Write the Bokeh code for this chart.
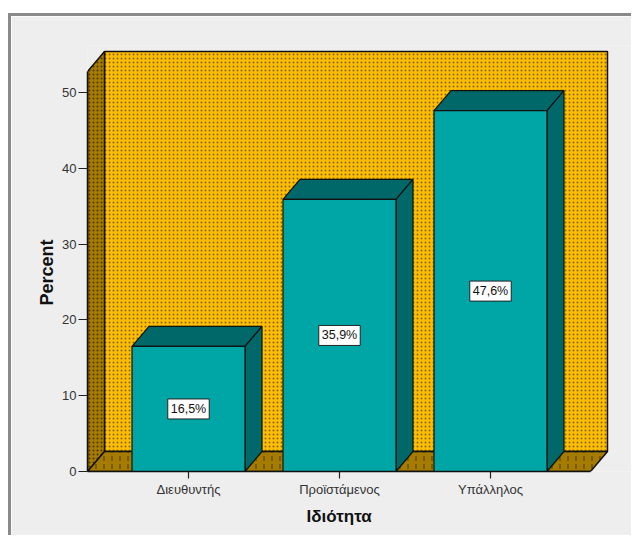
from bokeh.plotting import figure
from bokeh.models import Range1d, FixedTicker, Title
from bokeh.core.properties import value
from bokeh.embed import file_html
from bokeh.resources import INLINE

categories = ["Διευθυντής", "Προϊστάμενος", "Υπάλληλος"]
percent = [16.5, 35.9, 47.6]
labels = ["16,5%", "35,9%", "47,6%"]
y_ticks = [0, 10, 20, 30, 40, 50]

FONT = "Liberation Sans"
BAR_FRONT, BAR_DARK = "#00A6A6", "#006868"
WALL, WALL_SIDE, FLOOR = "#FFBE00", "#A67C00", "#A67C00"
EDGE = "#111111"

ox, oy = 11, 16                      # canvas origin on the page
W, H = 634 - ox, 538 - oy            # canvas size
L, R, T, B = 87 - ox, 0, 45 - oy, 67 # frame margins
px_x, px_y = 151.0, 7.58             # pixels per unit
x_lo = -(188 - 87) / px_x
x_hi = x_lo + (W - L - R) / px_x
y_hi = (H - T - B) / px_y
dx, dy = 17 / px_x, 20 / px_y        # depth of the 3-D box
half = 56.5 / px_x                   # half width of a bar
x0, x1 = x_lo, x_lo + 503 / px_x     # floor front edge
top_y = 400 / px_y                   # front top edge of the box

p = figure(width=W - 3, height=H - 3, output_backend="svg", toolbar_location=None,
           x_range=Range1d(x_lo, x_hi), y_range=Range1d(0, y_hi),
           min_border_left=L, min_border_right=R, min_border_top=T, min_border_bottom=B)
p.grid.visible = False
p.outline_line_color = None
p.background_fill_color = "#EEEEEE"
p.border_fill_color = "#EEEEEE"
p.margin = (13, 0, 0, 8)
p.styles = {"border-left": "3px solid #8A8A8A", "border-top": "3px solid #8A8A8A",
            "box-sizing": "content-box"}

# Back wall, left wall, floor
p.patch([x0 + dx, x1 + dx, x1 + dx, x0 + dx], [dy, dy, top_y + dy, top_y + dy],
        fill_color=WALL, line_color=EDGE, line_width=1.5,
        hatch_pattern="dot", hatch_color="#8A6400", hatch_scale=4, hatch_weight=2)
p.patch([x0, x0 + dx, x0 + dx, x0], [0, dy, top_y + dy, top_y],
        fill_color=WALL_SIDE, line_color=EDGE, line_width=1.5,
        hatch_pattern="dot", hatch_color="#4A3600", hatch_scale=4, hatch_weight=2)
p.patch([x0, x1, x1 + dx, x0 + dx], [0, 0, dy, dy],
        fill_color=FLOOR, line_color=EDGE, line_width=1.5,
        hatch_pattern="vertical_dash", hatch_color="#5A4200", hatch_scale=8, hatch_weight=1.2)

# Bars
for i, v in enumerate(percent):
    a, b = i - half, i + half
    p.patch([a, a + dx, b + dx, b], [v, v + dy, v + dy, v],
            fill_color=BAR_DARK, line_color=EDGE, line_width=1.2)
    p.patch([b, b + dx, b + dx, b], [0, dy, v + dy, v],
            fill_color=BAR_DARK, line_color=EDGE, line_width=1.2)
    p.patch([a, b, b, a], [0, 0, v, v],
            fill_color=BAR_FRONT, line_color=EDGE, line_width=1.2)

p.text(x=list(range(len(percent))), y=[v / 2 for v in percent], text=labels,
       text_font=value(FONT), text_font_size="12.5px", text_color="#111111",
       text_align="center", text_baseline="middle",
       background_fill_color="white", border_line_color="#222222", border_line_width=1,
       padding=3)

# Axes
xa = p.xaxis[0]
xa.ticker = FixedTicker(ticks=list(range(len(categories))))
xa.major_label_overrides = {i: c for i, c in enumerate(categories)}
xa.bounds = (x0, x1)
ya = p.yaxis[0]
ya.ticker = FixedTicker(ticks=y_ticks)
ya.bounds = (0, top_y)
for a in (xa, ya):
    a.axis_line_color = "#111111"
    a.axis_line_width = 1.5
    a.major_tick_line_color = "#222222"
    a.major_tick_line_width = 1.2
    a.major_tick_in = 0
    a.minor_tick_line_color = None
    a.major_label_text_font = FONT
    a.major_label_text_font_size = "13px"
    a.major_label_text_color = "#333333"
xa.major_tick_out = 7
ya.major_tick_out = 9
ya.major_label_standoff = 2
xa.major_label_standoff = 3

# Axis titles are centred on the floor and the box front edge, not on the frame
p.add_layout(Title(text="Ιδιότητα", align="left", offset=219, standoff=10,
                   text_font=FONT, text_font_size="17px", text_font_style="bold",
                   text_color="#111111"), "below")
p.add_layout(Title(text="Percent", align="left", offset=166, standoff=6,
                   text_font=FONT, text_font_size="18px", text_font_style="bold",
                   text_color="#111111"), "left")

open("out.html", "w").write(file_html(p, INLINE))
